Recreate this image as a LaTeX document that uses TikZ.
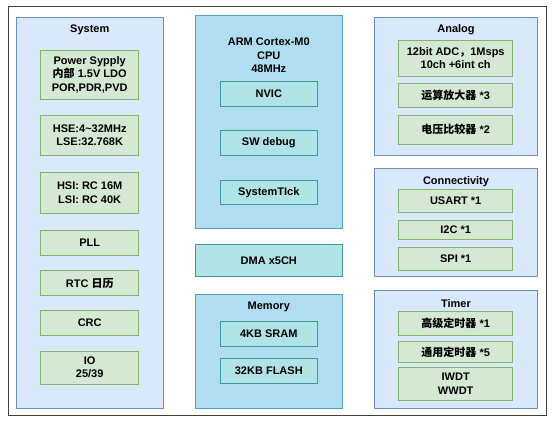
\documentclass[tikz,border=0pt]{standalone}
\usepackage{fontspec}
\setmainfont{Liberation Sans}
\newfontfamily\cjk{Noto Sans CJK SC}
\definecolor{grpfill}{HTML}{DAE8FC}
\definecolor{grpline}{HTML}{6C8EBF}
\definecolor{itemfill}{HTML}{D5E8D4}
\definecolor{itemline}{HTML}{82B366}
\definecolor{cpufill}{HTML}{B1DDF0}
\definecolor{cpuline}{HTML}{10739E}
\definecolor{corefill}{HTML}{B0E3E6}
\definecolor{coreline}{HTML}{0E8088}
\begin{document}
\begin{tikzpicture}[x=1pt,y=-1pt,
  every node/.style={font=\fontsize{11}{13.5}\selectfont\bfseries,align=center,inner sep=0pt},
  group/.style={draw=grpline,fill=grpfill,line width=0.8pt},
  item/.style={draw=itemline,fill=itemfill,line width=0.8pt},
  cpugroup/.style={draw=cpuline!70,fill=cpufill,line width=0.8pt},
  cpuitem/.style={draw=coreline!80,fill=corefill,line width=0.8pt}]
  \useasboundingbox (0,0) rectangle (554,424) ;
  % outer frame
  \node[draw=black!75,line width=0.9pt,minimum width=538pt,minimum height=409pt]
  (frame) at (277,411.5/2+5.25) {} ;
  % system
  \node[group,minimum width=147pt,minimum height=391pt] (system) at (89.8,212.8) {} ;
  \node (systitle) at (89.8,29.5) {System} ;
  \node[item,minimum width=98pt,minimum height=49pt] (pwr) at (89.7,74.5)
  {Power Sypply\\{\cjk 内部} 1.5V LDO\\POR,PDR,PVD} ;
  \node[item,minimum width=98pt,minimum height=40.7pt] (hse) at (89.7,135.3)
  {HSE:4\textasciitilde32MHz\\LSE:32.768K} ;
  \node[item,minimum width=98pt,minimum height=41pt] (hsi) at (89.7,192.8)
  {HSI: RC 16M\\LSI: RC 40K} ;
  \node[item,minimum width=98pt,minimum height=25.3pt] (pll) at (89.7,242.7) {PLL} ;
  \node[item,minimum width=98pt,minimum height=24.7pt] (rtc) at (89.7,283) {RTC {\cjk 日历}} ;
  \node[item,minimum width=98pt,minimum height=25.3pt] (crc) at (89.7,322.7) {CRC} ;
  \node[item,minimum width=98pt,minimum height=33pt] (io) at (89.7,367.5) {IO\\25/39} ;
  % cpu
  \node[cpugroup,minimum width=147pt,minimum height=212.6pt] (cpu) at (268.8,122) {} ;
  \node (cputitle) at (268.8,55.5) {ARM Cortex-M0\\CPU\\48MHz} ;
  \node[cpuitem,minimum width=97.7pt,minimum height=25pt] (nvic) at (268.8,94.2) {NVIC} ;
  \node[cpuitem,minimum width=97.7pt,minimum height=24.6pt] (swd) at (268.8,143) {SW debug} ;
  \node[cpuitem,minimum width=97.7pt,minimum height=24.7pt] (systick) at (268.8,192.3) {SystemTIck} ;
  % dma
  \node[cpuitem,minimum width=147pt,minimum height=32pt] (dma) at (268.8,260.3) {DMA x5CH} ;
  % memory
  \node[cpugroup,minimum width=147pt,minimum height=114.3pt] (memory) at (268.8,351.2) {} ;
  \node (memtitle) at (268.8,306.7) {Memory} ;
  \node[cpuitem,minimum width=97.7pt,minimum height=25.4pt] (sram) at (268.8,334) {4KB SRAM} ;
  \node[cpuitem,minimum width=97.7pt,minimum height=25.3pt] (flash) at (268.8,370.7) {32KB FLASH} ;
  % analog
  \node[group,minimum width=162.6pt,minimum height=137.7pt] (analog) at (456,86.2) {} ;
  \node (antitle) at (456,29.5) {Analog} ;
  \node[item,minimum width=114pt,minimum height=35.3pt] (adc) at (455.7,58.3)
  {12bit ADC{\cjk ，}1Msps\\10ch +6int ch} ;
  \node[item,minimum width=114pt,minimum height=24pt] (opa) at (455.7,95.3) {{\cjk 运算放大器} *3} ;
  \node[item,minimum width=114pt,minimum height=29.3pt] (cmp) at (455.7,129.7) {{\cjk 电压比较器} *2} ;
  % connectivity
  \node[group,minimum width=162.6pt,minimum height=108.4pt] (conn) at (456,222.5) {} ;
  \node (conntitle) at (456,181.7) {Connectivity} ;
  \node[item,minimum width=114pt,minimum height=22.7pt] (usart) at (455.7,200.7) {USART *1} ;
  \node[item,minimum width=114pt,minimum height=18.6pt] (itwoc) at (455.7,230) {I2C *1} ;
  \node[item,minimum width=114pt,minimum height=22.3pt] (spi) at (455.7,258.8) {SPI *1} ;
  % timer
  \node[group,minimum width=162.6pt,minimum height=117.6pt] (timer) at (456,349.5) {} ;
  \node (timtitle) at (456,303.3) {Timer} ;
  \node[item,minimum width=114pt,minimum height=24pt] (atim) at (455.7,323.7) {{\cjk 高级定时器} *1} ;
  \node[item,minimum width=114pt,minimum height=21pt] (gtim) at (455.7,352.2) {{\cjk 通用定时器} *5} ;
  \node[item,minimum width=114pt,minimum height=32.7pt] (wdt) at (455.7,383.7) {IWDT\\WWDT} ;
\end{tikzpicture}
\end{document}
